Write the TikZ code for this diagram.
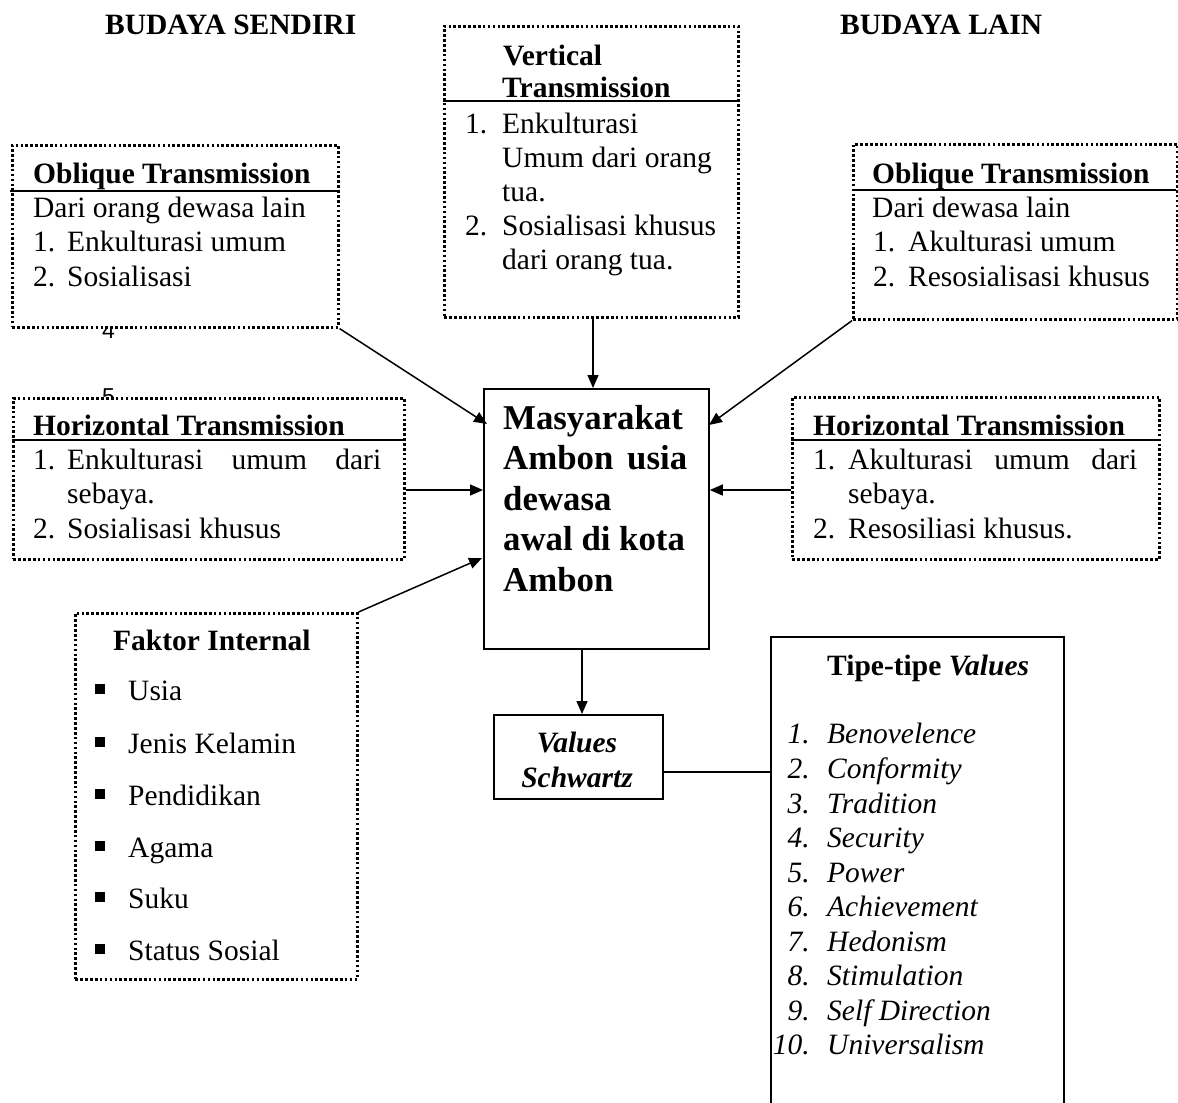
\documentclass[tikz,border=0pt]{standalone}
\usepackage{fontspec}
\setmainfont{Liberation Serif}
\newfontfamily\digitsans{Liberation Sans}
\usetikzlibrary{arrows.meta,calc}
\begin{document}
\begin{tikzpicture}[x=1pt,y=-1pt,
  dotbox/.style={draw, fill=white, line width=2.6pt, dash pattern=on 2.6pt off 2.3pt, inner sep=0pt, anchor=north west},
  solidbox/.style={draw, fill=white, line width=1.8pt, inner sep=0pt, anchor=north west},
  txt/.style={anchor=base west, inner sep=0pt, font=\fontsize{29.5}{34}\selectfont},
  numr/.style={anchor=base east, inner sep=0pt, font=\fontsize{29.5}{34}\selectfont\itshape},
  btxt/.style={anchor=base west, inner sep=0pt, font=\fontsize{29.5}{34}\selectfont\bfseries},
  itxt/.style={anchor=base west, inner sep=0pt, font=\fontsize{29.5}{34}\selectfont\itshape},
  bitxt/.style={anchor=base, inner sep=0pt, font=\fontsize{29.5}{34}\selectfont\bfseries\itshape},
  bigtxt/.style={anchor=base west, inner sep=0pt, font=\fontsize{34.8}{40}\selectfont\bfseries},
  digit/.style={anchor=base west, inner sep=0pt, font=\digitsans\fontsize{23}{26}\selectfont},
  bul/.style={fill=black, draw=none, minimum size=10pt, inner sep=0pt},
  hrule/.style={line width=1.6pt},
  arr/.style={line width=1.5pt, -{Triangle[length=13pt,width=11pt]}},
  conn/.style={line width=1.5pt}]
\useasboundingbox (0,0) rectangle (1178,1103);

% stray digits (partly covered by boxes)
\node[digit] (d4) at (102,338) {4};
\node[digit] (d5) at (102,404) {5};

% headings
\node[btxt] (hs) at (105,34) {BUDAYA SENDIRI};
\node[btxt] (hl2) at (840,34) {BUDAYA LAIN};

% boxes
\node[dotbox, minimum width=294pt, minimum height=291pt] (vt) at (443,25) {};
\node[dotbox, minimum width=326pt, minimum height=182pt] (ol) at (11,144) {};
\node[dotbox, minimum width=324pt, minimum height=175pt] (or) at (852,143) {};
\node[dotbox, minimum width=391pt, minimum height=161pt] (hl) at (12,397) {};
\node[dotbox, minimum width=367pt, minimum height=162pt] (hr) at (791,396) {};
\node[dotbox, minimum width=282pt, minimum height=366pt] (fi) at (74,612) {};
\node[solidbox, minimum width=225pt, minimum height=260pt] (ctr) at (483,388) {};
\node[solidbox, minimum width=169pt, minimum height=84pt] (vs) at (493,714) {};
\node[solidbox, draw=none, minimum width=291pt, minimum height=466pt] (tp) at (771,637) {};
\draw[line width=1.8pt] (tp.south west) -- (tp.north west) -- (tp.north east) -- (tp.south east);

% header rules
\draw[hrule] (443,101) -- (737,101);
\draw[hrule] (10,191) -- (337,191);
\draw[hrule] (852,190) -- (1176,190);
\draw[hrule] (12,440) -- (403,440);
\draw[hrule] (791,440) -- (1158,440);

% Vertical transmission
\node[btxt] (vt1) at (503,65) {Vertical};
\node[btxt] (vt2) at (502,97) {Transmission};
\node[txt] (vtn1) at (465,133) {1.};
\node[txt] (vta) at (502,133) {Enkulturasi};
\node[txt] (vtb) at (502,167) {Umum dari orang};
\node[txt] (vtc) at (502,201) {tua.};
\node[txt] (vtn2) at (465,235) {2.};
\node[txt] (vtd) at (502,235) {Sosialisasi khusus};
\node[txt] (vte) at (502,269) {dari orang tua.};

% Oblique left
\node[btxt] (olt) at (33,183) {Oblique Transmission};
\node[txt] (ola) at (33,217) {Dari orang dewasa lain};
\node[txt] (oln1) at (33,251) {1.};
\node[txt] (olb) at (67,251) {Enkulturasi umum};
\node[txt] (oln2) at (33,286) {2.};
\node[txt] (olc) at (67,286) {Sosialisasi};

% Oblique right
\node[btxt] (ort) at (872,183) {Oblique Transmission};
\node[txt] (ora) at (872,217) {Dari dewasa lain};
\node[txt] (orn1) at (873,251) {1.};
\node[txt] (orb) at (908,251) {Akulturasi umum};
\node[txt] (orn2) at (873,286) {2.};
\node[txt] (orc) at (908,286) {Resosialisasi khusus};

% Horizontal left
\node[btxt] (hlt) at (33,435) {Horizontal Transmission};
\node[txt] (hln1) at (33,469) {1.};
\node[txt] (hla) at (67,469) {\makebox[314pt][s]{Enkulturasi umum dari}};
\node[txt] (hlb) at (67,503) {sebaya.};
\node[txt] (hln2) at (33,538) {2.};
\node[txt] (hlc) at (67,538) {Sosialisasi khusus};

% Horizontal right
\node[btxt] (hrt) at (813,435) {Horizontal Transmission};
\node[txt] (hrn1) at (813,469) {1.};
\node[txt] (hra) at (848,469) {\makebox[289pt][s]{Akulturasi umum dari}};
\node[txt] (hrb) at (848,503) {sebaya.};
\node[txt] (hrn2) at (813,538) {2.};
\node[txt] (hrc) at (848,538) {Resosiliasi khusus.};

% Center
\node[bigtxt] (c1) at (503,429) {Masyarakat};
\node[bigtxt] (c2) at (503,469.5) {\makebox[184pt][s]{Ambon usia}};
\node[bigtxt] (c3) at (503,510) {dewasa};
\node[bigtxt] (c4) at (503,550.5) {awal di kota};
\node[bigtxt] (c5) at (503,591) {Ambon};

% Faktor internal
\node[btxt] (fit) at (113,650) {Faktor Internal};
\node[bul] (fb1) at (100,688.5) {};
\node[bul] (fb2) at (100,741.5) {};
\node[bul] (fb3) at (100,793.5) {};
\node[bul] (fb4) at (100,845.5) {};
\node[bul] (fb5) at (100,896.5) {};
\node[bul] (fb6) at (100,948.5) {};
\node[txt] (fi1) at (128,700) {Usia};
\node[txt] (fi2) at (128,753) {Jenis Kelamin};
\node[txt] (fi3) at (128,805) {Pendidikan};
\node[txt] (fi4) at (128,857) {Agama};
\node[txt] (fi5) at (128,908) {Suku};
\node[txt] (fi6) at (128,960) {Status Sosial};

% Values Schwartz
\node[bitxt] (vs1) at (577,752) {Values};
\node[bitxt] (vs2) at (577,787) {Schwartz};

% Tipe-tipe Values
\node[btxt] (tpt) at (827,675) {Tipe-tipe \textit{Values}};
\node[numr] (tn1) at (810,743) {1.};   \node[itxt] (ti1) at (827,743) {Benovelence};
\node[numr] (tn2) at (810,778) {2.};   \node[itxt] (ti2) at (827,778) {Conformity};
\node[numr] (tn3) at (810,813) {3.};   \node[itxt] (ti3) at (827,813) {Tradition};
\node[numr] (tn4) at (810,847) {4.};   \node[itxt] (ti4) at (827,847) {Security};
\node[numr] (tn5) at (810,882) {5.};   \node[itxt] (ti5) at (827,882) {Power};
\node[numr] (tn6) at (810,916) {6.};   \node[itxt] (ti6) at (827,916) {Achievement};
\node[numr] (tn7) at (810,951) {7.};   \node[itxt] (ti7) at (827,951) {Hedonism};
\node[numr] (tn8) at (810,985) {8.};   \node[itxt] (ti8) at (827,985) {Stimulation};
\node[numr] (tn9) at (810,1020) {9.};  \node[itxt] (ti9) at (827,1020) {Self Direction};
\node[numr] (tn10) at (810,1054) {10.}; \node[itxt] (ti10) at (827,1054) {Universalism};

% connector helper coordinates
\coordinate (tOL) at (487,424);
\coordinate (tOR) at (709,425);
\coordinate (tFI) at (482,558);
\coordinate (hA) at (0,490);
\coordinate (dA) at (582,0);
\coordinate (vA) at (593,0);
\coordinate (lA) at (0,772);

% connectors
\draw[arr] (vt.south -| vA) -- (ctr.north -| vA);
\draw[arr] (ol.south east) -- (tOL);
\draw[arr] (or.south west) -- (tOR);
\draw[arr] (hl.east |- hA) -- (ctr.west |- hA);
\draw[arr] (hr.west |- hA) -- (ctr.east |- hA);
\draw[arr] (fi.north east) -- (tFI);
\draw[arr] (ctr.south -| dA) -- (vs.north -| dA);
\draw[conn] (vs.east |- lA) -- (tp.west |- lA);
\end{tikzpicture}
\end{document}
